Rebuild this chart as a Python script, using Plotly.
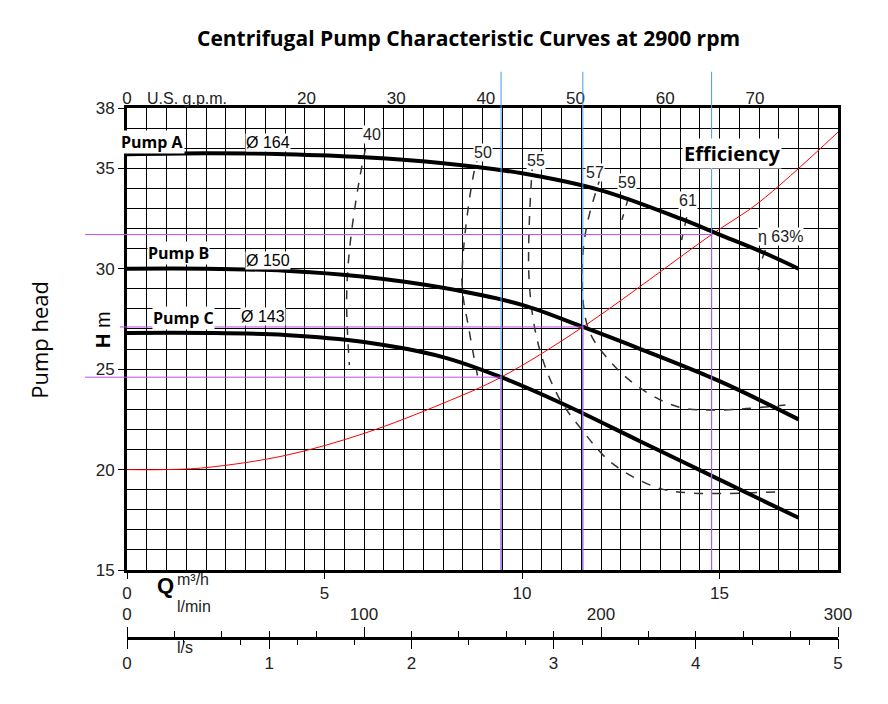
import plotly.graph_objects as go

# flow in m3/h, head in m
pump_a_q = [0, 2, 4, 6, 8, 10, 12, 14, 15, 16, 17]
pump_a_h = [35.7, 35.75, 35.7, 35.55, 35.25, 34.75, 33.9, 32.5, 31.7, 30.9, 30.0]
pump_b_q = [0, 2, 4, 6, 8, 10, 11.54, 13, 15, 17]
pump_b_h = [30.0, 30.0, 29.9, 29.6, 29.05, 28.2, 27.1, 26.0, 24.4, 22.5]
pump_c_q = [0, 2, 4, 6, 8, 9.47, 11, 13, 15, 17]
pump_c_h = [26.8, 26.8, 26.7, 26.35, 25.6, 24.6, 23.3, 21.4, 19.5, 17.6]

system_q = [0, 1, 2, 4, 6, 8, 9.47, 11.54, 14.8, 16, 18]
system_h = [20.0, 20.0, 20.1, 20.7, 21.8, 23.3, 24.6, 27.1, 31.7, 33.3, 36.8]

eff_curves = {
    "40": ([6.14, 5.88, 5.63, 5.56, 5.63], [36.9, 34.4, 30.9, 28.4, 25.2]),
    "50": ([8.95, 8.84, 8.48, 8.66, 8.91], [35.7, 35.26, 29.44, 26.95, 24.31]),
    "55": ([10.28, 10.25, 10.18, 10.43, 10.93, 11.52, 12.27, 13.38, 14.22, 16.41],
           [35.3, 34.76, 29.44, 26.1, 23.6, 21.97, 20.33, 19.13, 18.84, 18.89]),
    "57": ([12.0, 11.94, 11.62, 11.52, 11.69, 12.2, 12.95, 13.96, 15.05, 16.67],
           [34.6, 34.27, 31.93, 29.44, 26.95, 25.46, 24.11, 23.12, 22.97, 23.22]),
    "59": ([12.7, 12.53], [33.57, 32.43]),
    "61": ([14.17, 14.04], [32.57, 31.43]),
    "63": ([16.16, 15.98], [30.93, 29.94]),
}
eff_labels = ["40", "50", "55", "57", "59", "61", "η 63%"]
eff_label_q = [6.2, 9.0, 10.35, 11.85, 12.65, 14.2, 16.55]
eff_label_h = [36.7, 35.8, 35.4, 34.8, 34.3, 33.4, 31.6]

op_q = [9.47, 11.54, 14.8]
op_h = [24.6, 27.1, 31.7]

gpm_ticks = [0, 20, 30, 40, 50, 60, 70]
lmin_ticks = [0, 100, 200, 300]
ls_ticks = [0, 1, 2, 3, 4, 5]

bold_font = "Open Sans, Lato, sans-serif"
fig = go.Figure()

for q, h in zip(op_q, op_h):
    fig.add_shape(type="line", xref="x", yref="paper", x0=q, x1=q, y0=0.1837, y1=1.064,
                  line=dict(color="#4a9be8", width=1))
    fig.add_shape(type="line", xref="x", yref="y", x0=q, x1=q, y0=15, y1=h,
                  line=dict(color="#c04cf0", width=1))
for q, h, x0 in zip(op_q, op_h, [-0.059, -0.01, -0.059]):
    fig.add_shape(type="line", xref="paper", yref="y", x0=x0, x1=q / 18, y0=h, y1=h,
                  line=dict(color="#c04cf0", width=1))

for name, (q, h) in eff_curves.items():
    fig.add_trace(go.Scatter(x=q, y=h, mode="lines", line=dict(color="#333", width=1.5, dash="dash", shape="spline"),
                             showlegend=False))

fig.add_trace(go.Scatter(x=system_q, y=system_h, mode="lines", line=dict(color="red", width=1, shape="spline"),
                         showlegend=False))
for q, h in [(pump_a_q, pump_a_h), (pump_b_q, pump_b_h), (pump_c_q, pump_c_h)]:
    fig.add_trace(go.Scatter(x=q, y=h, mode="lines", line=dict(color="black", width=4, shape="spline"),
                             showlegend=False))

# second x axes: gpm on top, l/min and l/s at the bottom
fig.add_trace(go.Scatter(x=[0], y=[15], xaxis="x2", mode="markers", marker=dict(opacity=0), showlegend=False))
fig.add_trace(go.Scatter(x=[0], y=[15], xaxis="x3", mode="markers", marker=dict(opacity=0), showlegend=False))
fig.add_trace(go.Scatter(x=[0], y=[15], xaxis="x4", mode="markers", marker=dict(opacity=0), showlegend=False))

for t, q, h in zip(eff_labels, eff_label_q, eff_label_h):
    fig.add_annotation(x=q, y=h, text=t, showarrow=False, bgcolor="white",
                       font=dict(size=16, color="#222"), borderpad=0)

ann = [
    (-0.01, 36.3, "<b>Pump A</b>", bold_font),
    (0.166, 36.3, "Ø 164", None),
    (0.028, 30.8, "<b>Pump B</b>", bold_font),
    (0.166, 30.4, "Ø 150", None),
    (0.035, 27.55, "<b>Pump C</b>", bold_font),
    (0.159, 27.6, "Ø 143", None),
]
for x, y, t, f in ann:
    fig.add_annotation(xref="paper", x=x, y=y, text=t, showarrow=False, xanchor="left", bgcolor="white",
                       font=dict(size=16, color="black", family=f), borderpad=0)

fig.add_annotation(xref="paper", x=0.851, y=35.76, text="<b>Efficiency</b>", showarrow=False, bgcolor="white",
                   font=dict(size=20, color="black", family=bold_font), xanchor="center")
fig.add_annotation(xref="paper", yref="paper", x=0.48, y=1.152,
                   text="<b>Centrifugal Pump Characteristic Curves at 2900 rpm</b>",
                   showarrow=False, font=dict(size=21, color="black", family=bold_font))
fig.add_annotation(xref="paper", yref="y", x=-0.052, y=26.95, text="<b>H</b> m", textangle=-90, showarrow=False,
                   font=dict(size=20, color="black"))
fig.add_annotation(xref="paper", yref="paper", x=-0.148, y=0.59, text="Pump head", textangle=-90, showarrow=False,
                   font=dict(size=22, color="black", family=bold_font))
fig.add_annotation(xref="paper", yref="paper", x=0.025, y=1.035, text="U.S. g.p.m.", showarrow=False, xanchor="left",
                   font=dict(size=16, color="#222"))
fig.add_annotation(xref="paper", yref="paper", x=0.04, y=0.13, text="<b>Q</b>", showarrow=False,
                   font=dict(size=22, color="black"))
fig.add_annotation(xref="paper", yref="paper", x=0.068, y=0.148, text="m³/h", showarrow=False, xanchor="left",
                   font=dict(size=16, color="#222"))
fig.add_annotation(xref="paper", yref="paper", x=0.068, y=0.10, text="l/min", showarrow=False, xanchor="left",
                   font=dict(size=16, color="#222"))
fig.add_annotation(xref="paper", yref="paper", x=0.068, y=0.028, text="l/s", showarrow=False, xanchor="left",
                   font=dict(size=16, color="#222"))

tickfont = dict(size=17, color="#222")
fig.update_layout(
    width=888, height=704,
    margin=dict(l=119, r=58, t=100, b=38),
    paper_bgcolor="white", plot_bgcolor="white",
    font=dict(family="Liberation Sans, Arial"),
    xaxis=dict(range=[0, 18], tickvals=[0, 5, 10, 15], ticks="outside", ticklen=6, tickcolor="black",
               showgrid=True, gridcolor="black", gridwidth=1.2,
               minor=dict(dtick=0.5, showgrid=True, gridcolor="black", gridwidth=1.2),
               showline=True, linecolor="black", linewidth=3, mirror=True, zeroline=False,
               tickfont=tickfont),
    yaxis=dict(domain=[0.1837, 1], range=[15, 38], tickvals=[15, 20, 25, 30, 35, 38], ticks="outside",
               ticklen=6, tickcolor="black", showgrid=True, gridcolor="black", gridwidth=1.2,
               minor=dict(dtick=1, showgrid=True, gridcolor="black", gridwidth=1.2),
               showline=True, linecolor="black", linewidth=3, mirror=True, zeroline=False,
               tickfont=tickfont),
    xaxis2=dict(overlaying="x", side="top", anchor="y", range=[0, 18 * 4.4029], tickvals=gpm_ticks,
                showgrid=False, ticks="", zeroline=False, tickfont=tickfont),
    xaxis3=dict(overlaying="x", side="top", anchor="free", position=0.064, range=[0, 300], tickvals=lmin_ticks,
                showgrid=False, ticks="outside", ticklen=10, tickcolor="black", showline=True, linecolor="black",
                linewidth=2.5, zeroline=False, tickfont=tickfont,
                minor=dict(dtick=20, ticks="outside", ticklen=6, tickcolor="black")),
    xaxis4=dict(overlaying="x", side="bottom", anchor="free", position=0.064, range=[0, 5], tickvals=ls_ticks,
                showgrid=False, ticks="outside", ticklen=10, tickcolor="black", zeroline=False, tickfont=tickfont,
                minor=dict(dtick=0.4, ticks="outside", ticklen=6, tickcolor="black")),
)

fig.write_html("out.html")
